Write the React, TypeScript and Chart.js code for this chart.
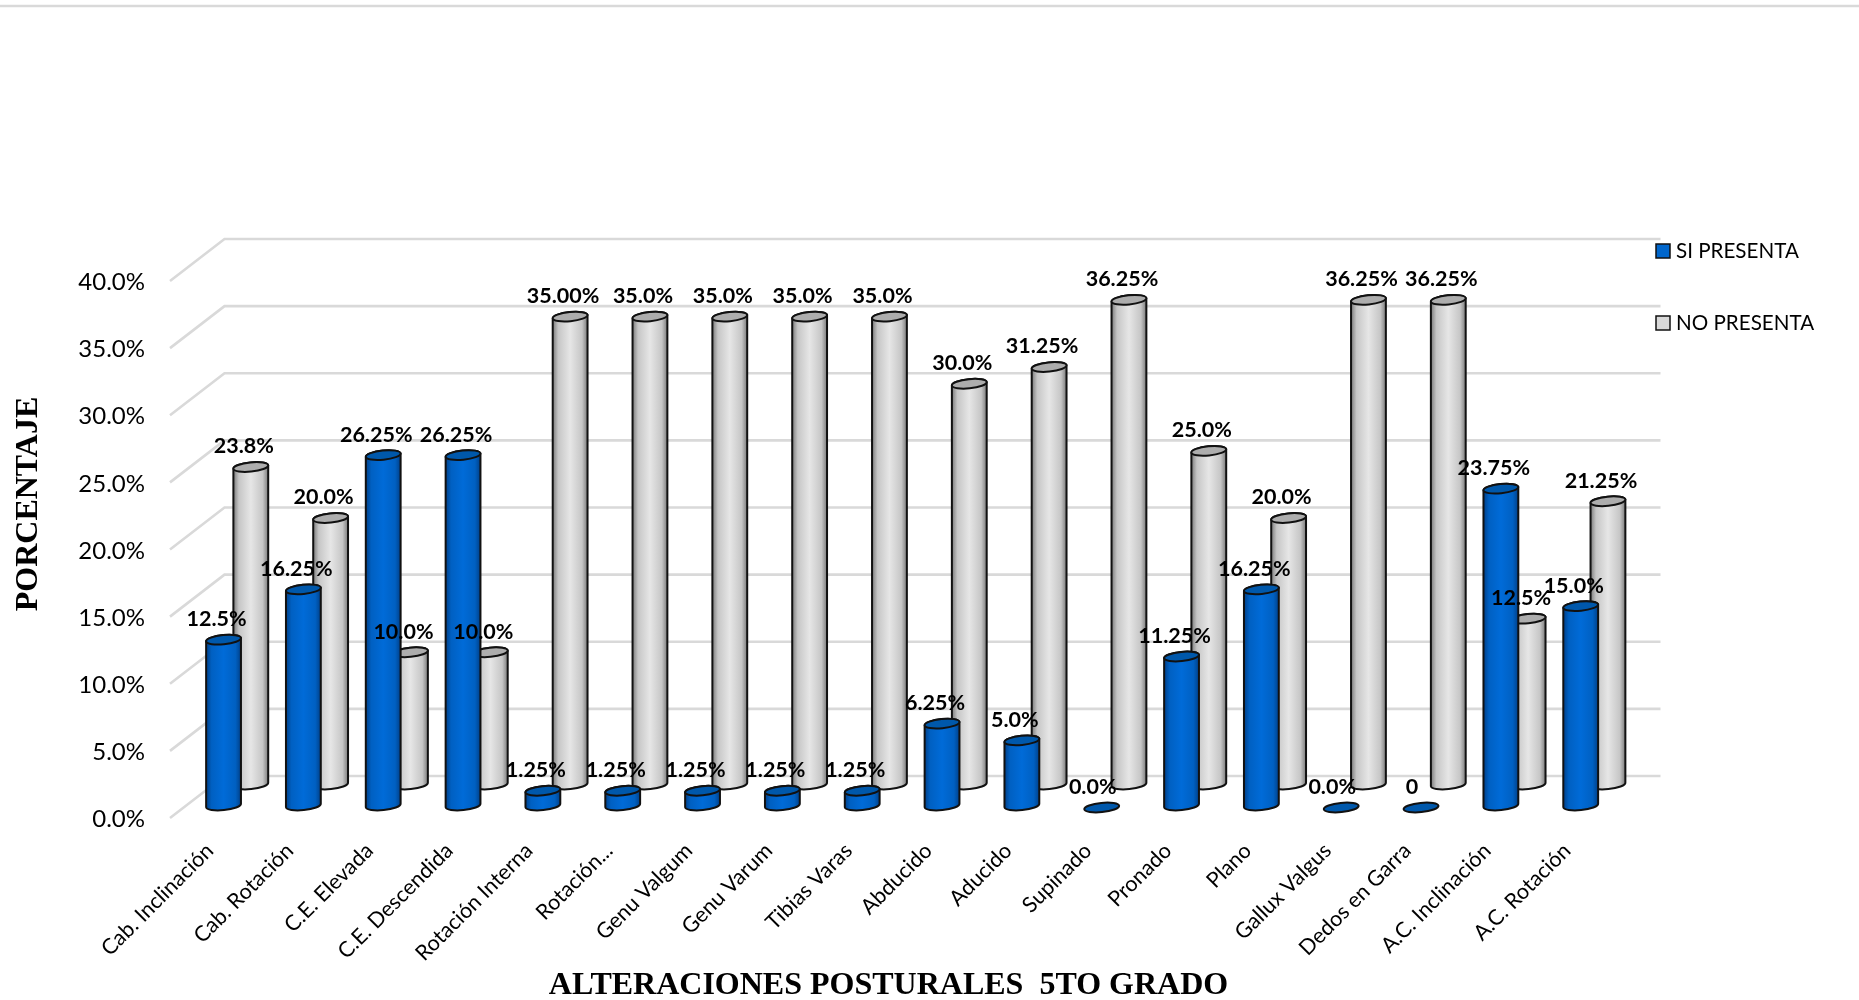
import React, { useEffect, useRef } from "react";
import { Chart, registerables } from "chart.js";

Chart.register(...registerables);

// Postural alterations surveyed in 5th grade, percent of pupils.
const categories = [
  "Cab. Inclinación", "Cab. Rotación", "C.E. Elevada", "C.E. Descendida", "Rotación Interna",
  "Rotación...", "Genu Valgum", "Genu Varum", "Tibias Varas", "Abducido", "Aducido", "Supinado",
  "Pronado", "Plano", "Gallux Valgus", "Dedos en Garra", "A.C. Inclinación", "A.C. Rotación",
];
const siPresenta = [12.5, 16.25, 26.25, 26.25, 1.25, 1.25, 1.25, 1.25, 1.25, 6.25, 5, 0, 11.25, 16.25, 0, 0, 23.75, 15];
const noPresenta = [23.8, 20, 10, 10, 35, 35, 35, 35, 35, 30, 31.25, 36.25, 25, 20, 36.25, 36.25, 12.5, 21.25];
const siLabels = ["12.5%", "16.25%", "26.25%", "26.25%", "1.25%", "1.25%", "1.25%", "1.25%", "1.25%", "6.25%", "5.0%", "0.0%", "11.25%", "16.25%", "0.0%", "0", "23.75%", "15.0%"];
const noLabels = ["23.8%", "20.0%", "10.0%", "10.0%", "35.00%", "35.0%", "35.0%", "35.0%", "35.0%", "30.0%", "31.25%", "36.25%", "25.0%", "20.0%", "36.25%", "36.25%", "12.5%", "21.25%"];
const seriesNames = ["SI PRESENTA", "NO PRESENTA"];
const valueLabels = [siLabels, noLabels];

const FONT = "Lato, 'Noto Sans', sans-serif";
const SERIF = "'Liberation Serif', serif";
const GRID = "#d9d9d9";
const OUTLINE = "#111111";

// Oblique offset of the back wall relative to the axis plane, in pixels.
const WALL_DX = 54.5;
const WALL_DY = -42;
// How far into the depth each series stands (0 front, 1 back wall).
const seriesDepth = [0.25, 0.75];

const BAR_WIDTH = 35;
const CAP_RY = 4.6;
const CAP_TILT = -0.1;
const BASE_LIFT = 2;

const shading = [
  { stops: ["#004089", "#0060c2", "#006bd8", "#0060c2", "#004089"], cap: "#0058ab", swatch: "#0066cc" },
  { stops: ["#7a7a7a", "#c6c6c6", "#e6e6e6", "#c6c6c6", "#7a7a7a"], cap: "#adadad", swatch: "#d9d9d9" },
];
const stopAt = [0, 0.16, 0.5, 0.84, 1];

function drawCylinder(ctx: CanvasRenderingContext2D, cx: number, top: number, base: number, look: typeof shading[number]) {
  const rx = BAR_WIDTH / 2;
  ctx.lineWidth = 2;
  ctx.strokeStyle = OUTLINE;
  if (base - top > 0.5) {
    const g = ctx.createLinearGradient(cx - rx, 0, cx + rx, 0);
    look.stops.forEach((c, i) => g.addColorStop(stopAt[i], c));
    ctx.beginPath();
    ctx.ellipse(cx, base - BASE_LIFT, rx, CAP_RY, CAP_TILT, Math.PI, 0, true);
    ctx.ellipse(cx, top, rx, CAP_RY, CAP_TILT, 0, Math.PI, true);
    ctx.closePath();
    ctx.fillStyle = g;
    ctx.fill();
    ctx.stroke();
  }
  ctx.beginPath();
  ctx.ellipse(cx, top, rx, CAP_RY, CAP_TILT, 0, Math.PI * 2);
  ctx.fillStyle = look.cap;
  ctx.fill();
  ctx.stroke();
}

const cylinders = {
  id: "cylinders",
  // The receding wall and floor edges, placed from the value scale.
  beforeDatasetsDraw(chart: any) {
    const { ctx, chartArea, scales } = chart;
    ctx.save();
    ctx.strokeStyle = GRID;
    ctx.lineWidth = 2.6;
    ctx.beginPath();
    ctx.moveTo(0, 6);
    ctx.lineTo(chart.width, 6);
    ctx.stroke();
    scales.y.ticks.forEach((t: any) => {
      const y = scales.y.getPixelForValue(t.value);
      ctx.beginPath();
      ctx.moveTo(chartArea.left, y);
      ctx.lineTo(chartArea.left + WALL_DX, y + WALL_DY);
      ctx.lineTo(chartArea.right + WALL_DX - 1, y + WALL_DY);
      ctx.stroke();
    });
    ctx.restore();
  },
  // Each bar element is rendered as an oblique cylinder at its series' depth.
  beforeDatasetDraw(chart: any, args: any) {
    const { ctx } = chart;
    const d = seriesDepth[args.index];
    ctx.save();
    args.meta.data.forEach((bar: any) => {
      drawCylinder(ctx, bar.x + WALL_DX * d, bar.y + WALL_DY * d, bar.base + WALL_DY * d, shading[args.index]);
    });
    ctx.restore();
    return false;
  },
  // Value labels, legend and the vertical axis title sit above every bar.
  afterDatasetsDraw(chart: any) {
    const { ctx } = chart;
    ctx.save();
    ctx.fillStyle = "#000";
    ctx.font = `bold 21.5px ${FONT}`;
    ctx.textAlign = "center";
    ctx.textBaseline = "middle";
    [0, 1].forEach((s) => {
      const d = seriesDepth[s];
      chart.getDatasetMeta(s).data.forEach((bar: any, i: number) => {
        const shift = chart.data.datasets[s].data[i] === 0 ? -9 : -7;
        ctx.fillText(valueLabels[s][i], bar.x + WALL_DX * d + shift, bar.y + WALL_DY * d - 20.5);
      });
    });

    ctx.font = `20.6px ${FONT}`;
    ctx.textAlign = "left";
    seriesNames.forEach((name, s) => {
      const y = 251 + s * 72;
      ctx.fillStyle = shading[s].swatch;
      ctx.strokeStyle = OUTLINE;
      ctx.lineWidth = 1.5;
      ctx.fillRect(1656, y - 7, 14, 14);
      ctx.strokeRect(1656, y - 7, 14, 14);
      ctx.fillStyle = "#000";
      ctx.fillText(name, 1676, y);
    });

    ctx.translate(29, 504);
    ctx.rotate(-Math.PI / 2);
    ctx.font = `bold 32px ${SERIF}`;
    ctx.textAlign = "center";
    ctx.fillText("PORCENTAJE", 0, 0);
    ctx.restore();
  },
};

export default function App() {
  const ref = useRef<HTMLCanvasElement>(null);
  useEffect(() => {
    const chart = new Chart(ref.current!, {
      type: "bar",
      data: {
        labels: categories,
        datasets: [
          { label: seriesNames[0], data: siPresenta, backgroundColor: shading[0].swatch, borderColor: OUTLINE },
          { label: seriesNames[1], data: noPresenta, backgroundColor: shading[1].swatch, borderColor: OUTLINE },
        ],
      },
      options: {
        animation: false,
        responsive: false,
        devicePixelRatio: 1,
        layout: { padding: { top: 281, right: 252, left: 0, bottom: 0 } },
        datasets: { bar: { grouped: false, barThickness: BAR_WIDTH } },
        plugins: { legend: { display: false }, tooltip: { enabled: false } },
        scales: {
          x: {
            grid: { display: false },
            border: { display: false },
            afterFit: (s: any) => { s.height = 182; },
            ticks: {
              autoSkip: false,
              minRotation: 45,
              maxRotation: 45,
              padding: 12,
              color: "#000",
              font: { family: FONT, size: 21.5 },
            },
            title: {
              display: true,
              text: "ALTERACIONES POSTURALES  5TO GRADO",
              color: "#000",
              font: { family: SERIF, size: 32, weight: "bold" },
              padding: { top: 0, bottom: -5 },
            },
          },
          y: {
            min: 0,
            max: 40,
            afterFit: (s: any) => { s.width = 170; },
            grid: { display: false, drawTicks: false },
            border: { display: false },
            ticks: {
              stepSize: 5,
              padding: 25,
              labelOffset: 1.5,
              color: "#000",
              font: { family: FONT, size: 24 },
              callback: (v: any) => Number(v).toFixed(1) + "%",
            },
          },
        },
      },
      plugins: [cylinders],
    } as any);
    return () => chart.destroy();
  }, []);
  return (
    <div style={{ position: "fixed", left: 0, top: 0, width: 1859, height: 1000, background: "#fff" }}>
      <canvas ref={ref} width={1859} height={1000} style={{ display: "block" }} />
    </div>
  );
}
